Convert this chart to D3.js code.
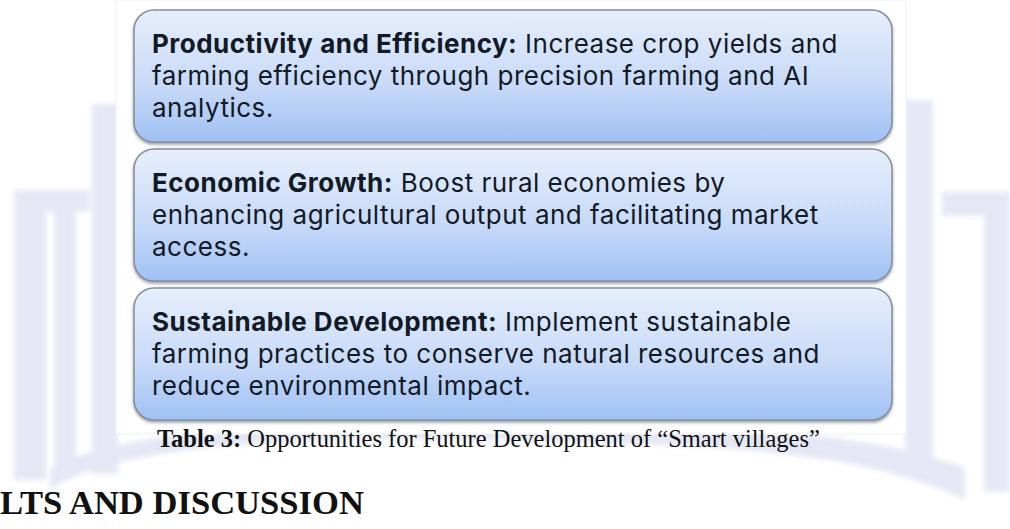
<!DOCTYPE html>
<html>
<head>
<meta charset="utf-8">
<script src="https://cdn.jsdelivr.net/npm/d3@7"></script>
<style>
  html, body { margin: 0; padding: 0; background: #fff; }
  svg { display: block; }
</style>
</head>
<body>
<div id="chart"></div>
<script>
// box contents
const headings = ["Productivity and Efficiency:", "Economic Growth:", "Sustainable Development:"];
const firstLines = ["Increase crop yields and", "Boost rural economies by", "Implement sustainable"];
const moreLines = [
  ["farming efficiency through precision farming and AI", "analytics."],
  ["enhancing agricultural output and facilitating market", "access."],
  ["farming practices to conserve natural resources and", "reduce environmental impact."]
];
const captionLabel = "Table 3:";
const captionText = " Opportunities for Future Development of \u201cSmart villages\u201d";
const sectionTitle = "LTS AND DISCUSSION";

const width = 1010, height = 529;

const svg = d3.select("#chart")
  .append("svg")
  .attr("width", width)
  .attr("height", height);

const defs = svg.append("defs");
const grad = defs.append("linearGradient")
  .attr("id", "boxfill")
  .attr("x1", 0).attr("y1", 0).attr("x2", 0).attr("y2", 1);
grad.append("stop").attr("offset", "0%").attr("stop-color", "#e6eefc");
grad.append("stop").attr("offset", "55%").attr("stop-color", "#c9dbf8");
grad.append("stop").attr("offset", "100%").attr("stop-color", "#a0c1f4");

const shadow = defs.append("filter").attr("id", "shadow")
  .attr("x", "-5%").attr("y", "-5%").attr("width", "110%").attr("height", "120%");
shadow.append("feDropShadow")
  .attr("dx", 0).attr("dy", 2).attr("stdDeviation", 1.5)
  .attr("flood-color", "#4a5260").attr("flood-opacity", 0.55);

defs.append("filter").attr("id", "soft")
  .append("feGaussianBlur").attr("stdDeviation", 2.5);

// faint watermark behind the figure
const wm = svg.append("g")
  .attr("fill", "#c3c9e6")
  .attr("opacity", 0.42)
  .attr("filter", "url(#soft)");
wm.append("rect").attr("x", 92).attr("y", 104).attr("width", 26).attr("height", 370);
wm.append("rect").attr("x", 14).attr("y", 190).attr("width", 76).attr("height", 22);
wm.append("rect").attr("x", 14).attr("y", 190).attr("width", 32).attr("height", 290);
wm.append("rect").attr("x", 54).attr("y", 212).attr("width", 22).attr("height", 260);
wm.append("rect").attr("x", 905).attr("y", 100).attr("width", 28).attr("height", 370);
wm.append("rect").attr("x", 942).attr("y", 192).attr("width", 68).attr("height", 24);
wm.append("rect").attr("x", 984).attr("y", 192).attr("width", 26).attr("height", 300);
wm.append("path")
  .attr("d", "M50,490 C110,450 250,436 480,440 C700,444 860,448 965,500 L965,468 C860,428 700,424 480,424 C250,424 110,432 50,470 Z");

// white panel under the boxes
svg.append("rect")
  .attr("x", 116).attr("y", 0)
  .attr("width", 790).attr("height", 434)
  .attr("fill", "#fff")
  .attr("stroke", "#eef0f5");

const boxLeft = 134, boxRight = 892;
const y = d3.scaleBand()
  .domain(headings)
  .range([10, 420])
  .paddingInner(0.05);

const boxes = svg.selectAll("g.box")
  .data(headings)
  .enter()
  .append("g")
  .attr("class", "box")
  .attr("transform", d => `translate(${boxLeft},${y(d)})`);

boxes.append("rect")
  .attr("width", boxRight - boxLeft)
  .attr("height", y.bandwidth())
  .attr("rx", 20).attr("ry", 20)
  .attr("fill", "url(#boxfill)")
  .attr("stroke", "#858d99")
  .attr("stroke-width", 1.5)
  .attr("filter", "url(#shadow)");

const lineGap = 32;
const textTop = 43;

// first line: bold heading + start of description
const firstText = boxes.append("text")
  .attr("class", "btext")
  .attr("x", 18)
  .attr("y", textTop)
  .attr("fill", "#121a26");
firstText.append("tspan").attr("font-weight", "bold").text(d => d);
firstText.append("tspan").text((d, i) => " " + firstLines[i]);

boxes.each(function(d, i) {
  d3.select(this).selectAll("text.more")
    .data(moreLines[i])
    .enter()
    .append("text")
    .attr("class", "btext more")
    .attr("x", 18)
    .attr("y", (line, j) => textTop + lineGap * (j + 1))
    .attr("fill", "#121a26")
    .text(line => line);
});

// size the box text: 26px, then spread letters so the first line spans like the reference
const btext = svg.selectAll("text.btext")
  .style("font-family", "Inter, 'Open Sans', sans-serif")
  .style("font-size", "26px");
const probe = firstText.filter((d, i) => i === 0);
const w26 = probe.node().getComputedTextLength();
const nChars = headings[0].length + 1 + firstLines[0].length;
const spread = Math.max(0, Math.min(1, (686 - w26) / nChars));
btext.style("letter-spacing", spread + "px");

// caption
const cap = svg.append("text")
  .attr("x", 157)
  .attr("y", 447)
  .attr("fill", "#111")
  .style("font-family", "'Liberation Serif', 'DejaVu Serif', serif");
cap.append("tspan").attr("font-weight", "bold").text(captionLabel);
cap.append("tspan").text(captionText);
cap.style("font-size", "100px");
const capFont = 100 * 663 / cap.node().getComputedTextLength();
cap.style("font-size", capFont + "px");

// section heading, cut at the left edge
const head = svg.append("text")
  .attr("x", 0)
  .attr("y", 514)
  .attr("fill", "#111")
  .attr("font-weight", "bold")
  .style("font-family", "'Liberation Serif', 'DejaVu Serif', serif")
  .text(sectionTitle);
head.style("font-size", "100px");
const headFont = 100 * 364 / head.node().getComputedTextLength();
head.style("font-size", headFont + "px");
</script>
</body>
</html>
